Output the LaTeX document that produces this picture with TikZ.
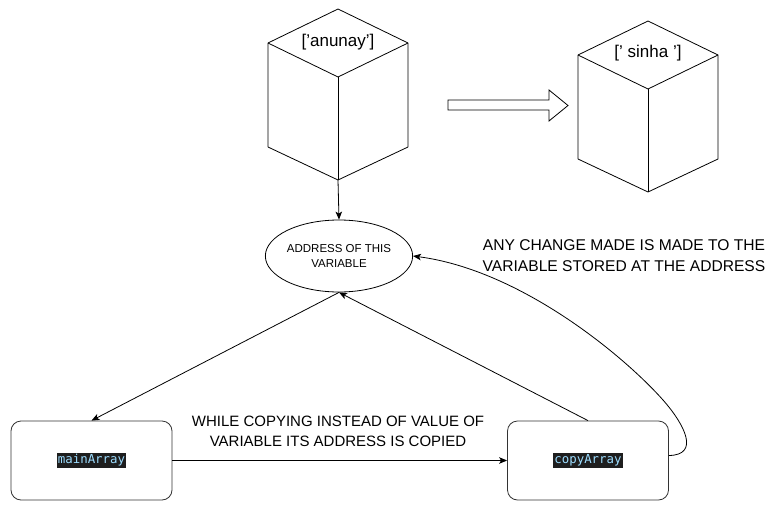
\documentclass[tikz,border=0pt]{standalone}
\usepackage{fontspec}
\setmainfont{Liberation Sans}
\newfontfamily\codefont{DejaVu Sans Mono}
\usetikzlibrary{arrows.meta,shapes.geometric}
\definecolor{codebg}{HTML}{1E1E1E}
\definecolor{codefg}{HTML}{9CDCFE}
\definecolor{boxline}{HTML}{333333}
\tikzset{
  ln/.style={line width=0.8pt, draw=black},
  arr/.style={ln, -{Stealth[length=8pt,width=6.5pt,inset=2pt]}},
  varbox/.style={draw=boxline, line width=0.8pt, rounded corners=10pt, minimum width=161pt, minimum height=79pt, inner sep=0pt},
  lbl/.style={align=center, font=\fontsize{15}{20}\selectfont, inner sep=0pt},
  lblb/.style={align=center, font=\fontsize{15.6}{21}\selectfont, inner sep=0pt},
  cubelbl/.style={font=\fontsize{17}{19}\selectfont, inner sep=0pt},
  pics/cubeshape/.style={code={
    \draw[ln, line join=round] (-70,34) -- (0,0) -- (70,34) -- (70,138) -- (0,171) -- (-70,138) -- cycle;
    \draw[ln, line join=round] (-70,34) -- (0,68) -- (70,34);
    \draw[ln] (0,68) -- (0,171);
  }}
}
\newcommand{\codelabel}[1]{{\setlength{\fboxsep}{1.3pt}\colorbox{codebg}{\textcolor{codefg}{\codefont\fontsize{12.4}{14}\selectfont #1}}}}
\begin{document}
\begin{tikzpicture}[x=1pt,y=-1pt]
\useasboundingbox[fill=white] (0,0) rectangle (779,511);
% cubes
\pic at (338,9) {cubeshape};
\pic at (648,21) {cubeshape};
\node[cubelbl] (valA) at (338,42) {['anunay']};
\node[cubelbl] (valB) at (648,53) {[' sinha ']};
\coordinate (cubeA) at (338,180);
% block arrow
\draw[ln, line join=miter] (448,100) -- (549,100) -- (549,90) -- (568,105.5) -- (549,121) -- (549,110) -- (448,110) -- cycle;
% address ellipse
\node[ellipse, ln, minimum width=132pt, minimum height=72pt, inner sep=0pt, align=center, font=\fontsize{11.5}{15}\selectfont] (addr) at (339,256) {ADDRESS OF THIS\\VARIABLE};
% boxes
\node[varbox] (main) at (91.5,460.5) {\codelabel{mainArray}};
\node[varbox] (copy) at (588,460.5) {\codelabel{copyArray}};
% connectors
\draw[arr] (cubeA) -- (addr.north);
\draw[arr] (addr.south) -- (main.north);
\draw[arr] (copy.north) -- (addr.south);
\draw[arr] (main.east) -- (copy.west);
\draw[arr] (copy.east) ++(0,-5) .. controls (700,455) and (685,425) .. (663,400) .. controls (623,355) and (520,270) .. (addr.east);
% labels
\node[lbl] (lblCopy) at (338,431) {WHILE COPYING INSTEAD OF VALUE OF\\VARIABLE ITS ADDRESS IS COPIED};
\node[lblb] (lblChange) at (624,256) {ANY CHANGE MADE IS MADE TO THE\\VARIABLE STORED AT THE ADDRESS};
\end{tikzpicture}
\end{document}
